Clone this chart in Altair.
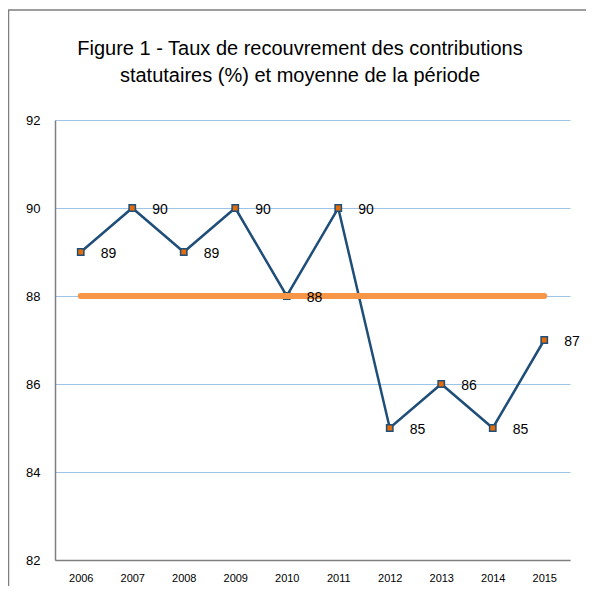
import altair as alt
import pandas as pd

years = ["2006", "2007", "2008", "2009", "2010", "2011", "2012", "2013", "2014", "2015"]
rates = [89, 90, 89, 90, 88, 90, 85, 86, 85, 87]
mean_years = ["2006", "2015"]
mean_values = [88, 88]
title_lines = ["Figure 1 - Taux de recouvrement des contributions",
               "statutaires (%) et moyenne de la période"]

df = pd.DataFrame({"year": years, "rate": rates})
dmean = pd.DataFrame({"year": mean_years, "rate": mean_values})

FONT = "Liberation Sans"
NAVY = "#1F4E79"
ORANGE = "#F79646"

x = alt.X("year:O", scale=alt.Scale(type="point", padding=0.5, domain=years),
          axis=alt.Axis(title=None, labelAngle=0, labelFontSize=11, labelColor="#000",
                        labelFont=FONT, ticks=False, domainColor="#7F7F7F",
                        domainWidth=1.5, labelPadding=12, grid=False))
y = alt.Y("rate:Q", scale=alt.Scale(domain=[82, 92], nice=False, zero=False),
          axis=alt.Axis(title=None, values=[82, 84, 86, 88, 90, 92], labelFontSize=13,
                        labelColor="#000", labelFont=FONT, ticks=False,
                        domainColor="#7F7F7F", domainWidth=1.5, labelPadding=15,
                        grid=True, gridColor="#9DC3E6", gridWidth=1))

frame = alt.Chart(pd.DataFrame({"a": [0]})).mark_rect(
    fill=None, stroke="#7F7F7F", strokeWidth=1.5, clip=False
).encode(x=alt.value(-46.5), x2=alt.value(1000), y=alt.value(-110), y2=alt.value(1000))

title1 = alt.Chart(pd.DataFrame({"t": [title_lines[0]]})).mark_text(
    font=FONT, fontSize=20, color="#000", align="center", baseline="middle"
).encode(x=alt.value(245), y=alt.value(-71), text="t:N")
title2 = alt.Chart(pd.DataFrame({"t": [title_lines[1]]})).mark_text(
    font=FONT, fontSize=20, color="#000", align="center", baseline="middle"
).encode(x=alt.value(245), y=alt.value(-44), text="t:N")

line = alt.Chart(df).mark_line(color=NAVY, strokeWidth=2.5).encode(x=x, y=y)
pts = alt.Chart(df).mark_square(size=40, fill="#E36C09", stroke=NAVY, strokeWidth=1.5,
                                opacity=1).encode(x=x, y=y)
mean_line = alt.Chart(dmean).mark_line(color=ORANGE, strokeWidth=6, strokeCap="round").encode(x=x, y=y)
labels = alt.Chart(df).mark_text(align="left", dx=20, dy=2, fontSize=14, font=FONT,
                                 color="#000").encode(x=x, y=y, text="rate:Q")

chart = alt.layer(frame, title1, title2, line, pts, mean_line, labels).properties(
    width=515, height=440,
    autosize=alt.AutoSizeParams(type="none"),
    padding={"left": 47, "top": 112, "right": 16, "bottom": 26},
).configure_view(stroke=None)

chart.save("out.html", embed_options={"renderer": "svg", "actions": False})
